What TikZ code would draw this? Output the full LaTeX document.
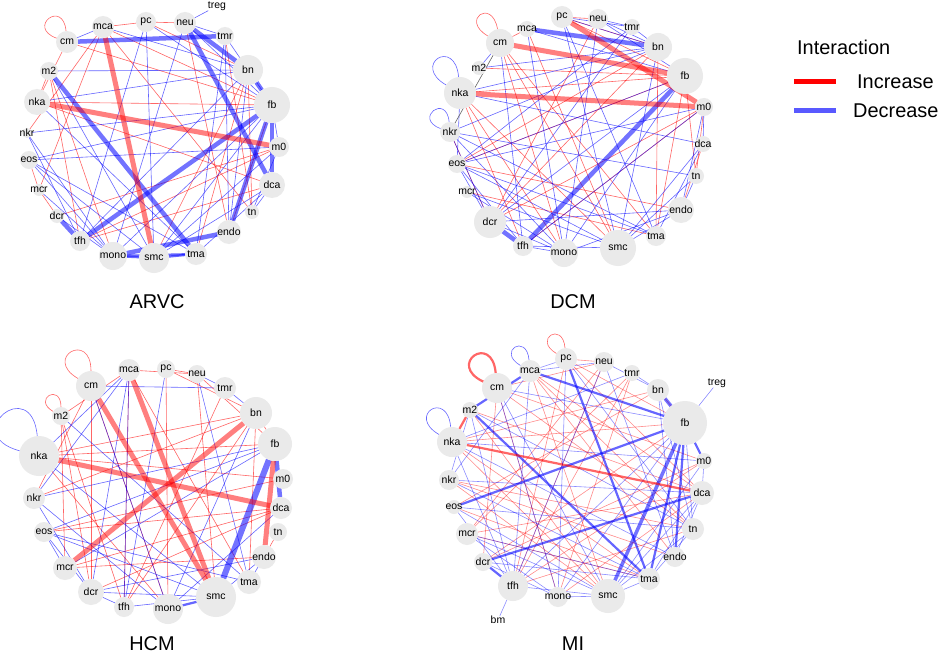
\documentclass[tikz,border=0pt]{standalone}
\usepackage{fontspec}
\setmainfont{Liberation Sans}
\definecolor{ngray}{RGB}{234,234,234}
\pgfdeclarelayer{back}
\pgfdeclarelayer{edgelayer}
\pgfsetlayers{back,edgelayer,main}
\tikzset{
 vtx/.style={circle, fill=ngray, draw=none, inner sep=0pt, outer sep=0pt},
 lbl/.style={font=\fontsize{10.5}{11}\selectfont, inner sep=0pt, text=black},
 ttl/.style={font=\fontsize{20}{22}\selectfont, inner sep=0pt},
 er/.style={draw=red, draw opacity=0.6, line width=0.6bp},
 eb/.style={draw=blue, draw opacity=0.6, line width=0.6bp},
 mr/.style={draw=red, draw opacity=0.6, line width=2.2bp},
 mb/.style={draw=blue, draw opacity=0.6, line width=2.2bp},
 ER/.style={draw=red, draw opacity=0.5, line width=5bp},
 EB/.style={draw=blue, draw opacity=0.55, line width=4.5bp},
 eg/.style={draw=gray!80!black, line width=0.6bp},
}
\newcommand\vtxnode[5]{\node[vtx,minimum size=#4bp,label={[lbl]center:#5}] (#1) at (#2,#3) {};}
\begin{document}
\begin{tikzpicture}[x=1bp,y=-1bp]
\useasboundingbox (0,0) rectangle (941,657);
\begin{pgfonlayer}{back}
\fill[white] (0,0) rectangle (941,657);
\end{pgfonlayer}
% ================= ARVC =================
\vtxnode{Acm}{67}{42}{22}{cm}
\vtxnode{Amca}{103}{27}{22}{mca}
\vtxnode{Apc}{146}{22}{20}{pc}
\vtxnode{Aneu}{185}{23}{22}{neu}
\vtxnode{Atmr}{225}{36}{18}{tmr}
\vtxnode{Abn}{248}{70}{30}{bn}
\vtxnode{Afb}{272}{105}{36}{fb}
\vtxnode{Am0}{279}{147}{20}{m0}
\vtxnode{Adca}{272}{185}{26}{dca}
\vtxnode{Atn}{252}{212}{14}{tn}
\vtxnode{Aendo}{229}{232}{24}{endo}
\vtxnode{Atma}{196}{254}{22}{tma}
\vtxnode{Asmc}{154}{258}{30}{smc}
\vtxnode{Amono}{113}{256}{28}{mono}
\vtxnode{Atfh}{80}{241}{20}{tfh}
\vtxnode{Adcr}{57}{216}{14}{dcr}
\vtxnode{Amcr}{39}{190}{12}{mcr}
\vtxnode{Aeos}{29}{160}{18}{eos}
\vtxnode{Ankr}{27}{133}{10}{nkr}
\vtxnode{Anka}{37}{102}{26}{nka}
\vtxnode{Am2}{49}{71}{18}{m2}
\node[lbl] (Atreg) at (217,6) {treg};
\node[ttl] (tA) at (157,302) {ARVC};
% ================= DCM =================
\vtxnode{Dpc}{562}{17}{22}{pc}
\vtxnode{Dneu}{598}{19}{20}{neu}
\vtxnode{Dmca}{527}{29}{16}{mca}
\vtxnode{Dtmr}{632}{27}{16}{tmr}
\vtxnode{Dcm}{500}{43}{28}{cm}
\vtxnode{Dbn}{658}{47}{28}{bn}
\vtxnode{Dm2}{479}{68}{14}{m2}
\vtxnode{Dfb}{685}{76}{36}{fb}
\vtxnode{Dnka}{460}{93}{32}{nka}
\vtxnode{Dm0}{704}{107}{18}{m0}
\vtxnode{Dnkr}{450}{132}{20}{nkr}
\vtxnode{Ddca}{703}{144}{16}{dca}
\vtxnode{Deos}{457}{164}{18}{eos}
\vtxnode{Dtn}{696}{176}{16}{tn}
\vtxnode{Dmcr}{467}{192}{12}{mcr}
\vtxnode{Dendo}{681}{210}{26}{endo}
\vtxnode{Ddcr}{490}{222}{32}{dcr}
\vtxnode{Dtma}{656}{236}{20}{tma}
\vtxnode{Dtfh}{523}{246}{20}{tfh}
\vtxnode{Dmono}{564}{253}{28}{mono}
\vtxnode{Dsmc}{618}{248}{36}{smc}
\node[ttl] (tD) at (573,302) {DCM};
% ================= HCM =================
\vtxnode{Hmca}{129}{370}{22}{mca}
\vtxnode{Hpc}{166}{369}{18}{pc}
\vtxnode{Hneu}{197}{374}{18}{neu}
\vtxnode{Hcm}{91}{386}{30}{cm}
\vtxnode{Htmr}{225}{388}{22}{tmr}
\vtxnode{Hm2}{61}{416}{18}{m2}
\vtxnode{Hbn}{256}{413}{32}{bn}
\vtxnode{Hfb}{275}{444}{34}{fb}
\vtxnode{Hnka}{39}{456}{40}{nka}
\vtxnode{Hm0}{283}{479}{20}{m0}
\vtxnode{Hnkr}{34}{498}{22}{nkr}
\vtxnode{Hdca}{281}{508}{22}{dca}
\vtxnode{Htn}{278}{532}{18}{tn}
\vtxnode{Heos}{44}{532}{20}{eos}
\vtxnode{Hendo}{264}{557}{24}{endo}
\vtxnode{Hmcr}{65}{568}{24}{mcr}
\vtxnode{Htma}{249}{582}{24}{tma}
\vtxnode{Hdcr}{91}{592}{26}{dcr}
\vtxnode{Hsmc}{216}{597}{40}{smc}
\vtxnode{Htfh}{124}{607}{20}{tfh}
\vtxnode{Hmono}{168}{609}{30}{mono}
\node[ttl] (tH) at (152,644) {HCM};
% ================= MI =================
\vtxnode{Mpc}{566}{359}{22}{pc}
\vtxnode{Mneu}{604}{362}{20}{neu}
\vtxnode{Mmca}{530}{371}{22}{mca}
\vtxnode{Mtmr}{632}{373}{16}{tmr}
\vtxnode{Mcm}{497}{388}{30}{cm}
\vtxnode{Mbn}{658}{390}{22}{bn}
\vtxnode{Mm2}{470}{410}{16}{m2}
\vtxnode{Mfb}{685}{423}{44}{fb}
\vtxnode{Mnka}{452}{442}{30}{nka}
\vtxnode{Mm0}{704}{461}{16}{m0}
\vtxnode{Mnkr}{449}{480}{20}{nkr}
\vtxnode{Mdca}{702}{493}{24}{dca}
\vtxnode{Meos}{454}{507}{14}{eos}
\vtxnode{Mtn}{693}{529}{22}{tn}
\vtxnode{Mmcr}{467}{534}{22}{mcr}
\vtxnode{Mendo}{675}{557}{20}{endo}
\vtxnode{Mdcr}{483}{562}{18}{dcr}
\vtxnode{Mtma}{649}{579}{22}{tma}
\vtxnode{Mtfh}{513}{586}{30}{tfh}
\vtxnode{Mmono}{558}{597}{20}{mono}
\vtxnode{Msmc}{608}{596}{34}{smc}
\node[lbl] (Mtreg) at (717,383) {treg};
\node[lbl] (Mbm) at (498,620) {bm};
\node[ttl] (tM) at (573,644) {MI};
% ================= legend =================
\node[ttl, anchor=west] (legT) at (797,47) {Interaction};
\node[ttl, anchor=west] (legI) at (857,82) {Increase};
\node[ttl, anchor=west] (legD) at (853,111) {Decrease};
\coordinate (lri) at (794,82); \coordinate (lre) at (836,82);
\coordinate (lbi) at (794,111); \coordinate (lbe) at (836,111);
\draw[red, line width=5bp] (lri) -- (lre);
\draw[blue, draw opacity=0.65, line width=5bp] (lbi) -- (lbe);
% ================= edges =================
\begin{pgfonlayer}{edgelayer}
% ARVC
\foreach \a/\b in {mca/fb, pc/neu, mca/pc, pc/bn, cm/nka, m2/tfh, nkr/mca, mcr/mca, dcr/m0, tfh/dca, neu/endo, tmr/tn, bn/tn, endo/fb, nka/fb, tma/bn, cm/fb, m2/mono, nka/dca, mca/tn, smc/bn, mcr/dcr, m2/nka, eos/mcr, tfh/m0}
  \draw[er] (A\a) -- (A\b);
\foreach \a/\b in {pc/fb, neu/fb, mca/bn, m2/bn, m2/smc, nka/bn, nkr/fb, eos/m0, eos/fb, eos/mono, eos/smc, nkr/mono, mcr/mono, tfh/pc, tfh/bn, smc/pc, smc/fb, smc/m0, endo/tmr, dca/tn, tn/m0, mono/fb, tma/dca, endo/bn, neu/treg, neu/tmr, tmr/fb, cm/mca, nka/tma, eos/tma, dcr/mono, mono/neu, tma/tmr, smc/dca, m0/fb, nkr/tfh}
  \draw[eb] (A\a) -- (A\b);
\foreach \a/\b in {mono/smc, mono/tma, smc/tma}
  \draw[mb] (A\a) -- (A\b);
\foreach \a/\b in {cm/tmr, neu/bn, neu/dca, m2/tma, fb/tfh, fb/endo, fb/dca, bn/fb, dcr/tfh, mono/endo}
  \draw[EB] (A\a) -- (A\b);
\foreach \a/\b in {mca/smc, nka/m0}
  \draw[ER] (A\a) -- (A\b);
\draw[er] (Acm) to[out=160,in=95,looseness=7,min distance=22bp] (Acm);
% DCM
\foreach \a/\b in {mca/cm, pc/fb, pc/bn, cm/smc, cm/tma, m2/fb, nka/fb, nka/smc, nkr/dcr, eos/endo, eos/fb, mcr/tma, dcr/m0, tfh/m0, mono/nka, tfh/nka, bn/dcr, bn/tma, fb/tn, m0/tn, endo/dca, tma/fb, smc/mca, mono/cm, eos/bn, dcr/neu, pc/neu}
  \draw[er] (D\a) -- (D\b);
\foreach \a/\b in {pc/bn, neu/bn, tmr/bn, neu/fb, mca/fb, pc/tma, pc/smc, neu/mono, tmr/dcr, tmr/eos, bn/m2, bn/nka, bn/nkr, bn/smc, fb/eos, fb/dcr, fb/mono, m0/eos, m0/tfh, m0/endo, dca/tma, dca/nka, dca/smc, tn/nkr, tn/smc, endo/dcr, endo/mono, tma/eos, tma/nkr, smc/eos, smc/mcr, smc/tfh, mono/tfh, mono/dcr, mono/mcr, mono/nkr, tfh/eos, dcr/eos, dcr/nkr, tfh/cm, mono/mca, eos/nka, m2/cm, m0/dca, endo/tn, smc/endo, pc/tmr, neu/tmr}
  \draw[eb] (D\a) -- (D\b);
\foreach \a/\b in {mca/bn, fb/tfh, dcr/tfh}
  \draw[EB] (D\a) -- (D\b);
\foreach \a/\b in {pc/m0, cm/fb, nka/m0}
  \draw[ER] (D\a) -- (D\b);
\draw[eg] (Dcm) -- (Dnkr);
\draw[er] (Dcm) to[out=150,in=100,looseness=7,min distance=30bp] (Dcm);
\draw[eb] (Dnka) to[out=150,in=95,looseness=7,min distance=30bp] (Dnka);
\draw[eb] (Dnkr) to[out=160,in=95,looseness=7,min distance=24bp] (Dnkr);
% HCM
\foreach \a/\b in {mca/neu, pc/neu, pc/bn, neu/fb, mca/m2, cm/nkr, m2/mcr, m2/tfh, nka/fb, nka/bn, nka/m0, nkr/bn, eos/dca, eos/m0, mcr/endo, dcr/cm, dcr/m2, tfh/mca, tfh/tmr, mono/cm, mono/nka, tma/mca, tma/bn, smc/neu, endo/tn, dcr/dca, mcr/dca, tfh/bn, bn/fb, mono/pc}
  \draw[er] (H\a) -- (H\b);
\foreach \a/\b in {cm/tmr, neu/tmr, tmr/bn, mca/dcr, mca/tfh, pc/tfh, neu/tma, nka/smc, nkr/fb, eos/fb, eos/smc, mcr/eos, dcr/eos, dcr/nkr, dcr/smc, tfh/smc, tfh/dcr, mono/bn, mono/dca, smc/endo, tma/endo, m2/tma, nkr/mono, mcr/fb, mca/nka, mca/nkr, eos/tma, endo/dcr, cm/mono}
  \draw[eb] (H\a) -- (H\b);
\draw[mb] (Hmono) -- (Hsmc);
\draw[EB, line width=6bp] (Hfb) -- (Hsmc);
\draw[EB] (Hfb) -- (Hdca);
\foreach \a/\b in {cm/smc, mca/smc, bn/mcr, nka/dca, fb/endo}
  \draw[ER] (H\a) -- (H\b);
\draw[er] (Hcm) to[out=150,in=90,looseness=7,min distance=32bp] (Hcm);
\draw[er] (Hm2) to[out=150,in=90,looseness=7,min distance=24bp] (Hm2);
\draw[eb] (Hnka) to[out=165,in=95,looseness=7,min distance=34bp] (Hnka);
% MI
\foreach \a/\b in {pc/neu, pc/fb, pc/dca, neu/cm, neu/tfh, mca/tn, mca/endo, cm/m0, cm/tn, m2/smc, m2/dca, nka/tma, nka/fb, nkr/smc, nkr/tn, eos/tma, eos/bn, mcr/dca, mcr/neu, dcr/fb, tfh/m0, tfh/pc, mono/cm, mono/tmr, smc/nka, smc/mca, tma/mcr, endo/nkr, tn/tfh, dca/mono, m0/dcr, bn/nka, tmr/mcr, tfh/tmr, cm/dcr, mca/dca, bn/fb}
  \draw[er, draw opacity=0.45] (M\a) -- (M\b);
\foreach \a/\b in {neu/bn, tmr/bn, neu/mca, pc/mca, cm/fb, cm/smc, cm/mono, mca/tfh, mca/nkr, m2/nkr, m2/tn, nka/m0, nka/endo, nkr/dca, nkr/tma, eos/smc, eos/tn, mcr/smc, mcr/tma, dcr/tma, dcr/mono, tfh/smc, tfh/neu, tfh/fb, mono/fb, mono/pc, smc/dca, smc/tn, smc/m0, tma/tn, tma/dca, endo/dca, tn/fb, m0/dca, bn/tn, bn/endo, neu/endo, pc/tn, tmr/nka, eos/tfh, mcr/mono, m2/tfh, nka/tfh, fb/treg, tfh/bm, mono/smc, smc/tma}
  \draw[eb, draw opacity=0.45] (M\a) -- (M\b);
\foreach \a/\b in {mca/m2, mca/fb, m2/tma, pc/tma, eos/fb, dcr/dca, fb/tma, fb/endo, dcr/tfh, fb/m0}
  \draw[mb] (M\a) -- (M\b);
\draw[EB, line width=3.5bp] (Mfb) -- (Msmc);
\draw[EB, line width=3.5bp] (Mbn) -- (Mfb);
\foreach \a/\b in {m2/nka, nka/dca}
  \draw[mr] (M\a) -- (M\b);
\draw[mr] (Mcm) to[out=155,in=95,looseness=7,min distance=30bp] (Mcm);
\draw[eb] (Mmca) to[out=150,in=95,looseness=7,min distance=24bp] (Mmca);
\draw[er] (Mpc) to[out=150,in=95,looseness=7,min distance=24bp] (Mpc);
\draw[eb] (Mnka) to[out=150,in=95,looseness=7,min distance=26bp] (Mnka);
\end{pgfonlayer}
\end{tikzpicture}
\end{document}
